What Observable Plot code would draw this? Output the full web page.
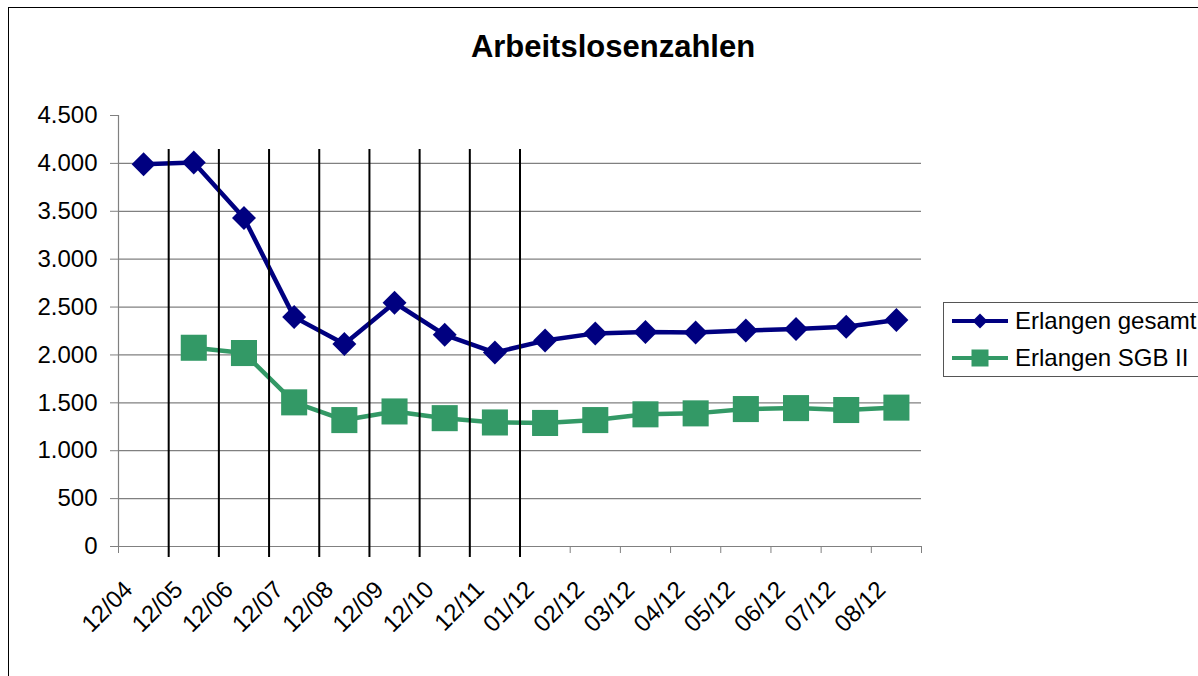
<!DOCTYPE html>
<html>
<head>
<meta charset="utf-8">
<script src="https://cdn.jsdelivr.net/npm/d3@7"></script>
<script src="https://cdn.jsdelivr.net/npm/@observablehq/plot@0.6"></script>
<style>
  html, body { margin: 0; padding: 0; background: #fff; }
  #wrap { position: relative; width: 1198px; height: 676px; overflow: hidden; background: #fff;
          font-family: "Liberation Sans", Arial, sans-serif; }
  #frame { position: absolute; left: 8px; top: 7px; width: 1400px; height: 1000px;
           border-left: 1.5px solid #000; border-top: 1.5px solid #000; box-sizing: border-box; }
  #title { position: absolute; left: 0; top: 29px; width: 1226px; text-align: center;
           font-size: 31px; font-weight: bold; line-height: 36px; color: #000; }
  #chart { position: absolute; left: 0; top: 90px; }
  #legend { position: absolute; left: 943px; top: 302px; width: 320px; height: 75px;
            border: 1.5px solid #555; background: #fff; box-sizing: border-box; }
  .row { position: absolute; left: 8px; height: 30px; display: flex; align-items: center;
         font-size: 24px; color: #000; white-space: nowrap; }
  .row svg { margin-right: 7px; }
</style>
</head>
<body>
<div id="wrap">
  <div id="frame"></div>
  <div id="title">Arbeitslosenzahlen</div>
  <div id="chart"></div>
  <div id="legend"></div>
</div>
<script>
// ---- data ----
const categories = ["12/04","12/05","12/06","12/07","12/08","12/09","12/10","12/11",
                    "01/12","02/12","03/12","04/12","05/12","06/12","07/12","08/12"];
const seriesNames = ["Erlangen gesamt", "Erlangen SGB II"];
const gesamt = [3990, 4010, 3430, 2395, 2115, 2545, 2210, 2025, 2150, 2225, 2240, 2235, 2255, 2270, 2295, 2365];
const sgb2   = [null, 2075, 2020, 1505, 1320, 1410, 1340, 1295, 1290, 1320, 1380, 1390, 1435, 1445, 1425, 1450];
const yTicks = [0, 500, 1000, 1500, 2000, 2500, 3000, 3500, 4000, 4500];
const gridValues = [500, 1000, 1500, 2000, 2500, 3000, 3500, 4000];
// hand-drawn separator lines at the left edge of these categories
const dividers = ["12/05","12/06","12/07","12/08","12/09","12/10","12/11","01/12"];
const dividerTop = 4145, dividerBottom = -115;

const colors = {"Erlangen gesamt": "#000080", "Erlangen SGB II": "#339966"};

const rows = [];
categories.forEach((c, i) => {
  rows.push({cat: c, i, series: seriesNames[0], value: gesamt[i]});
  rows.push({cat: c, i, series: seriesNames[1], value: sgb2[i]});
});
const boundaries = d3.range(categories.length + 1).map(k => k - 0.5);

const de = d3.formatLocale({decimal: ",", thousands: ".", grouping: [3], currency: ["", " €"]});
const fmt = de.format(",d");

const chart = Plot.plot({
  width: 960,
  height: 586,
  marginLeft: 118,
  marginRight: 39,
  marginTop: 25,
  marginBottom: 130,
  style: {fontFamily: '"Liberation Sans", Arial, sans-serif', fontSize: "24px", background: "transparent", overflow: "visible"},
  x: {type: "linear", domain: [-0.5, categories.length - 0.5]},
  y: {domain: [0, 4500]},
  marks: [
    Plot.ruleY(gridValues, {stroke: "#808080", strokeWidth: 1.2}),
    Plot.ruleY([0], {stroke: "#808080", strokeWidth: 1.2}),
    Plot.ruleX([-0.5], {y1: 0, y2: 4500, stroke: "#808080", strokeWidth: 1.2}),
    Plot.axisY({ticks: yTicks, tickSize: 8, tickPadding: 13, tickFormat: fmt, stroke: "#808080", fill: "#000", fontSize: 24, label: null}),
    Plot.axisX({ticks: boundaries, tickSize: 7, tickFormat: () => "", stroke: "#808080", label: null}),
    Plot.text(categories, {x: (d, i) => i, y: () => 0, text: d => d, rotate: -45,
      textAnchor: "end", lineAnchor: "middle", dx: -15, dy: 39, fontSize: 24, fill: "#000"}),
    Plot.line(rows.filter(d => d.value != null), {x: "i", y: "value", z: "series",
      stroke: d => colors[d.series], strokeWidth: 4.5, curve: "linear"}),
    Plot.ruleX(dividers, {x: d => categories.indexOf(d) - 0.5, y1: dividerTop, y2: dividerBottom,
      stroke: "#000", strokeWidth: 2}),
    Plot.dot(rows.filter(d => d.series === seriesNames[0] && d.value != null),
      {x: "i", y: "value", symbol: "diamond2", r: 10.8, fill: colors[seriesNames[0]], stroke: null}),
    Plot.dot(rows.filter(d => d.series === seriesNames[1] && d.value != null),
      {x: "i", y: "value", symbol: "square", r: 14.7, fill: colors[seriesNames[1]], stroke: null})
  ]
});
document.getElementById("chart").appendChild(chart);

// legend
const legend = document.getElementById("legend");
seriesNames.forEach((name, k) => {
  const row = document.createElement("div");
  row.className = "row";
  row.style.top = (k === 0 ? 3 : 40) + "px";
  const c = colors[name];
  const marker = k === 0
    ? `<path d="M28,7.5 L35.5,15 L28,22.5 L20.5,15 Z" fill="${c}"/>`
    : `<rect x="19.5" y="6.5" width="17" height="17" fill="${c}"/>`;
  row.innerHTML = `<svg width="56" height="30"><line x1="0" x2="56" y1="15" y2="15" stroke="${c}" stroke-width="4"/>${marker}</svg><span>${name}</span>`;
  legend.appendChild(row);
});
</script>
</body>
</html>
